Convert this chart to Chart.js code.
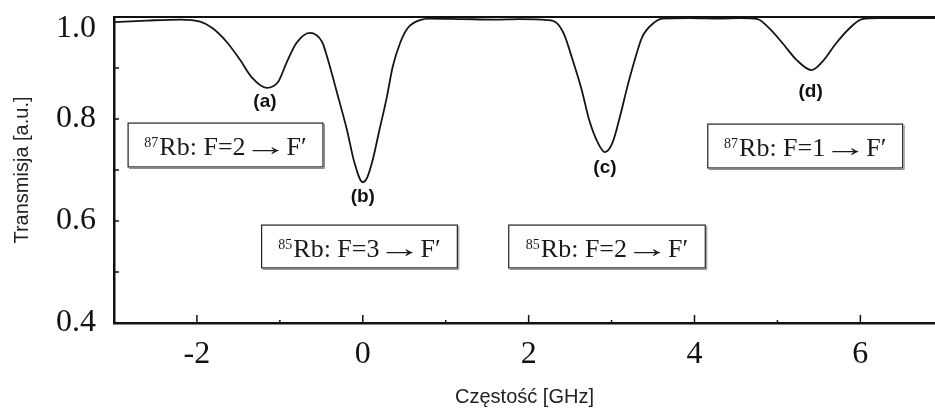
<!DOCTYPE html>
<html>
<head>
<meta charset="utf-8">
<script src="https://cdn.jsdelivr.net/npm/chart.js@4/dist/chart.umd.min.js"></script>
<style>
  html, body { margin: 0; padding: 0; background: #fff; }
  #wrap { width: 935px; height: 409px; }
</style>
</head>
<body>
<div id="wrap"><canvas id="myChart"></canvas></div>
<script>
// absorption spectrum of Rb vapour, frequency in GHz vs transmission
const freqGHz = [-3.0, -2.6, -2.2, -1.96, -1.81, -1.64, -1.48, -1.33, -1.16, -1.02, -0.92, -0.80, -0.64, -0.49, -0.42, -0.31, -0.19, -0.10, 0.0, 0.05, 0.12, 0.20, 0.29, 0.36, 0.45, 0.54, 0.69, 0.81, 1.2, 1.6, 1.89, 2.22, 2.34, 2.43, 2.53, 2.64, 2.73, 2.83, 2.92, 3.01, 3.10, 3.19, 3.28, 3.37, 3.52, 3.61, 3.94, 4.3, 4.54, 4.76, 4.90, 5.06, 5.23, 5.41, 5.54, 5.71, 5.87, 6.02, 6.23, 6.6, 6.9];
const transmission = [0.990, 0.993, 0.995, 0.991, 0.978, 0.951, 0.916, 0.880, 0.861, 0.873, 0.910, 0.949, 0.969, 0.951, 0.916, 0.851, 0.778, 0.714, 0.676, 0.684, 0.720, 0.778, 0.843, 0.902, 0.949, 0.978, 0.994, 0.997, 0.996, 0.995, 0.996, 0.994, 0.988, 0.965, 0.916, 0.857, 0.798, 0.755, 0.735, 0.753, 0.804, 0.863, 0.916, 0.961, 0.990, 0.997, 0.998, 0.997, 0.998, 0.996, 0.978, 0.949, 0.916, 0.896, 0.912, 0.949, 0.978, 0.996, 0.998, 0.998, 0.998];

const xTickValues = [-2, 0, 2, 4, 6];
const yTickValues = [0.4, 0.6, 0.8, 1.0];

const peakLabels = ['(a)', '(b)', '(c)', '(d)'];
const isotopes = ['87', '85', '85', '87'];
const transitions = ['Rb: F=2 \u2192 F\u2032', 'Rb: F=3 \u2192 F\u2032', 'Rb: F=2 \u2192 F\u2032', 'Rb: F=1 \u2192 F\u2032'];

const serif = '"Liberation Serif", "Times New Roman", serif';
const sans = '"Liberation Sans", Arial, sans-serif';
const ARROW_W = 27;
const GAP = 7;

// draws one transition label; the arrow glyph is stretched to a fixed ink width
function drawTransition(ctx, sup, text, cx, base) {
    const parts = text.split('\u2192');
    const p0 = parts[0].trimEnd();
    const p2 = parts[1].trimStart();
    ctx.font = '14px ' + serif;
    const wSup = ctx.measureText(sup).width;
    ctx.font = '26px ' + serif;
    const w0 = ctx.measureText(p0).width;
    const w2 = ctx.measureText(p2).width;
    const m = ctx.measureText('\u2192');
    const inkW = m.actualBoundingBoxLeft + m.actualBoundingBoxRight;
    const s = ARROW_W / inkW;
    let px = cx - (wSup + 1 + w0 + GAP + ARROW_W + GAP + w2) / 2;
    ctx.font = '14px ' + serif;
    ctx.fillText(sup, px, base - 8);
    px += wSup + 1;
    ctx.font = '26px ' + serif;
    ctx.fillText(p0, px, base);
    px += w0 + GAP;
    ctx.save();
    ctx.translate(px + m.actualBoundingBoxLeft * s, base);
    ctx.scale(s, 1);
    ctx.fillText('\u2192', 0, 0);
    ctx.restore();
    px += ARROW_W + GAP;
    ctx.fillText(p2, px, base);
}

const decorations = {
    id: 'decorations',
    afterDraw(chart) {
        const ctx = chart.ctx;
        const a = chart.chartArea;
        const x = chart.scales.x;
        const y = chart.scales.y;
        ctx.save();
        ctx.strokeStyle = '#111';

        // top frame line
        ctx.lineWidth = 2;
        ctx.beginPath();
        ctx.moveTo(a.left, a.top);
        ctx.lineTo(a.right, a.top);
        ctx.stroke();

        // inward tick marks
        ctx.lineWidth = 1.5;
        for (let v = -3; v <= 7; v++) {
            const px = x.getPixelForValue(v);
            if (px <= a.left + 1 || px > a.right) continue;
            const len = v % 2 === 0 ? 8 : 3;
            ctx.beginPath();
            ctx.moveTo(px, a.bottom);
            ctx.lineTo(px, a.bottom - len);
            ctx.stroke();
        }
        for (let i = 5; i <= 9; i++) {
            const py = y.getPixelForValue(i / 10);
            ctx.beginPath();
            ctx.moveTo(a.left, py);
            ctx.lineTo(a.left + 5, py);
            ctx.stroke();
        }

        // peak letters
        const peakPos = [[-1.18, 0.833], [0.0, 0.647], [2.92, 0.704], [5.40, 0.853]];
        ctx.fillStyle = '#111';
        ctx.font = 'bold 19px ' + sans;
        ctx.textAlign = 'center';
        ctx.textBaseline = 'middle';
        peakLabels.forEach((t, i) => {
            ctx.fillText(t, x.getPixelForValue(peakPos[i][0]), y.getPixelForValue(peakPos[i][1]));
        });

        // transition boxes: [left, right, top, bottom] in axis units
        const boxes = [[-2.83, -0.48, 0.792, 0.706], [-1.22, 1.14, 0.592, 0.508],
                       [1.76, 4.13, 0.592, 0.508], [4.16, 6.51, 0.790, 0.704]];
        ctx.textAlign = 'left';
        ctx.textBaseline = 'alphabetic';
        boxes.forEach((b, i) => {
            const l = x.getPixelForValue(b[0]), r = x.getPixelForValue(b[1]);
            const t = y.getPixelForValue(b[2]), btm = y.getPixelForValue(b[3]);
            ctx.strokeStyle = '#888';
            ctx.lineWidth = 1;
            ctx.beginPath();
            ctx.moveTo(l + 1, btm + 1.5);
            ctx.lineTo(r + 1.5, btm + 1.5);
            ctx.lineTo(r + 1.5, t + 1);
            ctx.stroke();
            ctx.strokeStyle = '#222';
            ctx.lineWidth = 1.2;
            ctx.strokeRect(l, t, r - l, btm - t);
            ctx.fillStyle = '#1a1a1a';
            drawTransition(ctx, isotopes[i], transitions[i], (l + r) / 2, (t + btm) / 2 + 10);
        });
        ctx.restore();
    }
};

const ctx = document.getElementById('myChart').getContext('2d');
const spectrumChart = new Chart(ctx, {
    type: 'line',
    data: {
        datasets: [{
            data: freqGHz.map((f, i) => ({ x: f, y: transmission[i] })),
            borderColor: '#151515',
            borderWidth: 1.8,
            pointRadius: 0,
            cubicInterpolationMode: 'monotone',
            fill: false
        }]
    },
    options: {
        responsive: true,
        maintainAspectRatio: false,
        animation: false,
        layout: { padding: { top: 17, left: 0, right: 0, bottom: 0 } },
        plugins: {
            legend: { display: false },
            tooltip: { enabled: false }
        },
        scales: {
            x: {
                type: 'linear',
                min: -3,
                max: 6.9,
                afterBuildTicks: s => { s.ticks = xTickValues.map(v => ({ value: v })); },
                afterFit: s => { s.height = 86; s.paddingLeft = 0; s.paddingRight = 0; },
                grid: { display: false, drawTicks: false },
                border: { display: true, color: '#111', width: 2.5 },
                ticks: {
                    padding: 12,
                    color: '#111',
                    font: { family: serif, size: 32 },
                    callback: v => String(v)
                },
                title: {
                    display: true,
                    text: 'Częstość [GHz]',
                    color: '#222',
                    font: { family: sans, size: 20 },
                    padding: { top: 0, bottom: 0 }
                }
            },
            y: {
                min: 0.4,
                max: 1.0,
                afterBuildTicks: s => { s.ticks = yTickValues.map(v => ({ value: v })); },
                afterFit: s => { s.width = 114; s.paddingTop = 0; s.paddingBottom = 0; },
                grid: { display: false, drawTicks: false },
                border: { display: true, color: '#111', width: 2.5 },
                ticks: {
                    padding: 18,
                    color: '#111',
                    // the top label sits a little below its tick
                    font: c => (c.tick && c.tick.value === 1.0)
                        ? { family: serif, size: 32, lineHeight: 0.75 }
                        : { family: serif, size: 32 },
                    callback: v => v === 1.0 ? ['', '1.0'] : v.toFixed(1)
                },
                title: {
                    display: true,
                    text: 'Transmisja [a.u.]',
                    color: '#222',
                    font: { family: sans, size: 20 },
                    padding: { top: 10, bottom: 0 }
                }
            }
        }
    },
    plugins: [decorations]
});
</script>
</body>
</html>
